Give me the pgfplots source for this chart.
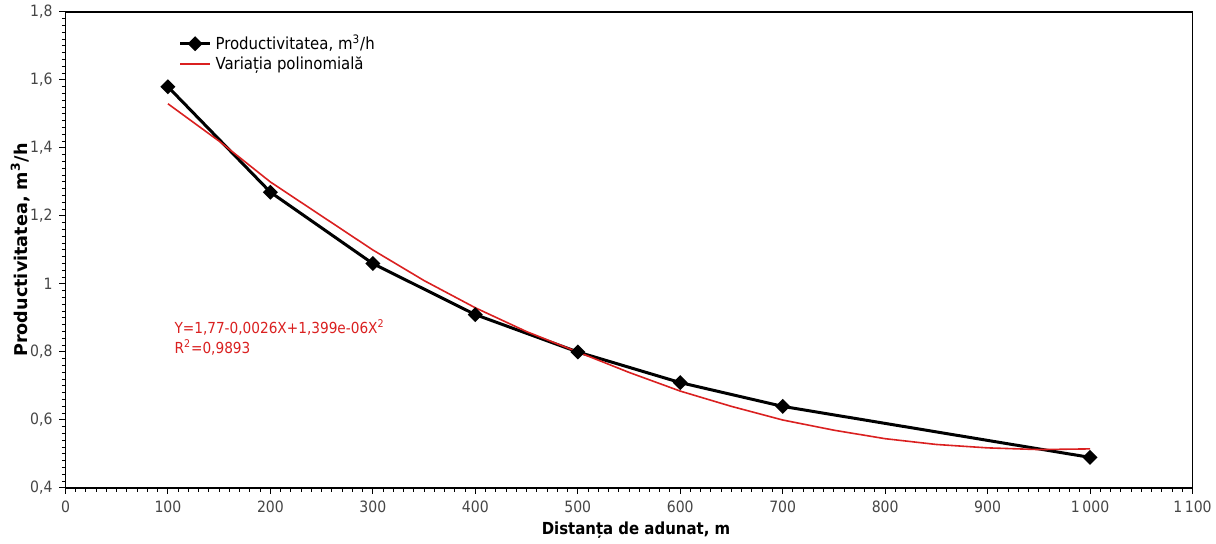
\documentclass[border=0pt]{standalone}
\usepackage{fontspec}
\setmainfont{DejaVu Sans Condensed}
\newfontfamily\widefont{DejaVu Sans}
\usepackage{pgfplots}
\pgfplotsset{compat=1.18}
\definecolor{fitred}{RGB}{218,32,32}
\definecolor{tickgray}{RGB}{70,70,70}
\begin{document}
\begin{tikzpicture}
\begin{axis}[
  scale only axis, width=563.5pt, height=238pt,
  xmin=0, xmax=1100, ymin=0.4, ymax=1.8,
  xtick={0,100,200,300,400,500,600,700,800,900,1000,1100},
  ytick={0.4,0.6,0.8,1,1.2,1.4,1.6,1.8},
  minor x tick num=9, minor y tick num=9,
  tick align=outside, xtick pos=bottom, ytick pos=left,
  major tick length=3pt, minor tick length=1.8pt,
  every tick/.style={black, line width=0.5pt},
  axis line style={line width=0.6pt},
  /pgf/number format/assume math mode=true,
  xticklabel style={/pgf/number format/.cd, 1000 sep={\,}, fixed},
  yticklabel style={/pgf/number format/.cd, use comma, fixed, precision=1},
  ticklabel style={font=\fontsize{7.8}{9}\selectfont, text=tickgray},
  legend style={at={(axis cs:110,1.745)}, anchor=north west, draw=none, fill=none,
    font=\fontsize{8.3}{10}\selectfont, row sep=-2pt, inner sep=0pt},
  legend cell align=left,
  legend image code/.code={\draw[mark repeat=2,mark phase=2,#1] plot coordinates {(0pt,0pt) (7.5pt,0pt) (15pt,0pt)};},
]
\addplot[black, line width=1.5pt, mark=square*, mark size=1.9pt, mark options={solid, rotate=45}]
  coordinates {(100,1.58)(200,1.27)(300,1.06)(400,0.91)(500,0.80)(600,0.71)(700,0.64)(1000,0.49)};
\addlegendentry{Productivitatea, m\textsuperscript{3}/h}
\addplot[fitred, line width=0.8pt]
  coordinates {(100,1.53)(150,1.42)(200,1.30)(250,1.20)(300,1.10)(350,1.01)(400,0.93)(450,0.86)(500,0.80)(550,0.74)(600,0.685)(650,0.64)(700,0.60)(750,0.57)(800,0.545)(850,0.528)(900,0.518)(950,0.513)(1000,0.515)};
\addlegendentry{Variația polinomială}
\node[anchor=north west, align=left, text=fitred, font=\fontsize{7.6}{10}\selectfont, inner sep=0pt]
  at (axis cs:106,0.895) {Y=1,77-0,0026X+1,399e-06X\textsuperscript{2}\\R\textsuperscript{2}=0,9893};
\end{axis}
\node[rotate=90, font=\widefont\fontsize{8.8}{10}\selectfont\bfseries] at ([xshift=-22.5pt]current axis.west) {Productivitatea, m\textsuperscript{3}/h};
\node[font=\fontsize{8.3}{10}\selectfont\bfseries] at ([yshift=-21pt, xshift=3.5pt]current axis.south) {Distanța de adunat, m};
\pgfresetboundingbox
\path[use as bounding box] ([shift={(-32.75pt,-28pt)}]current axis.south west) rectangle ([shift={(11.75pt,6pt)}]current axis.north east);
\end{tikzpicture}
\end{document}
